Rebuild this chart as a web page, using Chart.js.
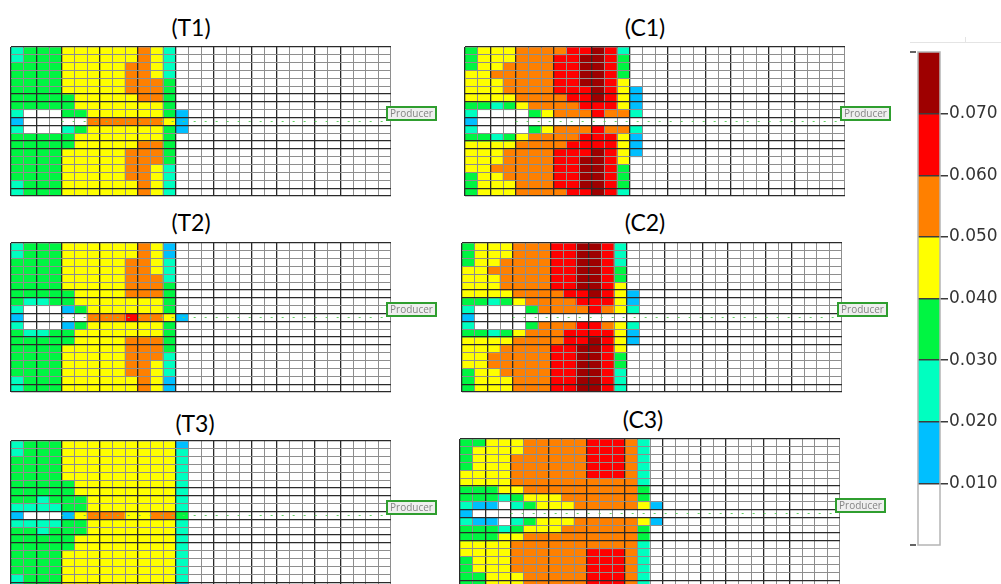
<!DOCTYPE html>
<html>
<head>
<meta charset="utf-8">
<script src="https://cdn.jsdelivr.net/npm/chart.js@4.4.1/dist/chart.umd.min.js"></script>
<style>
  html, body { margin: 0; padding: 0; background: #fff; overflow: hidden; }
  body { width: 1001px; height: 584px; position: relative; }
  canvas { position: absolute; }
  .titulo { position: absolute; width: 90px; text-align: center; font: 23px Lato, "Open Sans", sans-serif; line-height: 23px; color: #000; }
  .linha-topo { position: absolute; left: 910px; top: 42px; width: 91px; height: 1px; background: #e4e4e4; }
  .marca-topo { position: absolute; left: 965px; top: 37px; width: 1px; height: 6px; background: #e4e4e4; }
</style>
</head>
<body>
<div class="linha-topo"></div>
<div class="marca-topo"></div>

<div class="titulo" style="left:146px;top:16px">(T1)</div>
<div class="titulo" style="left:600px;top:16px">(C1)</div>
<div class="titulo" style="left:146px;top:211px">(T2)</div>
<div class="titulo" style="left:600px;top:211px">(C2)</div>
<div class="titulo" style="left:150px;top:412px">(T3)</div>
<div class="titulo" style="left:598px;top:408px">(C3)</div>

<canvas id="T1"></canvas>
<canvas id="C1"></canvas>
<canvas id="T2"></canvas>
<canvas id="C2"></canvas>
<canvas id="T3"></canvas>
<canvas id="C3"></canvas>
<canvas id="escala"></canvas>

<script>
// faixa de concentracao de cada celula: 0 = < 0.010, 1 = 0.010-0.020, ... 7 = > 0.070
const CORES_FAIXA = ["#ffffff", "#00bfff", "#00ffc0", "#00f542", "#ffff00", "#ff8000", "#ff0000", "#9e0000"];
const LIMITES_FAIXA = [0, 0.01, 0.02, 0.03, 0.04, 0.05, 0.06, 0.07, 0.08];
const ROTULOS_ESCALA = ["0.010", "0.020", "0.030", "0.040", "0.050", "0.060", "0.070"];

const T1 = [
    "233344444454200000000000000000",
    "233344444454200000000000000000",
    "333344444554200000000000000000",
    "333344444554200000000000000000",
    "333344444555300000000000000000",
    "333344444555300000000000000000",
    "333334444455300000000000000000",
    "333334444444300000000000000000",
    "200033444444310000000000000000",
    "100000555555410000000000000000",
    "200023444444310000000000000000",
    "333334444444300000000000000000",
    "333334444455300000000000000000",
    "333344444555300000000000000000",
    "333344444555300000000000000000",
    "333344444554200000000000000000",
    "333344444554200000000000000000",
    "233344444454200000000000000000",
    "233344444454200000000000000000"
];

const C1 = [
    "344455556676200000000000000000",
    "344455566776300000000000000000",
    "344555566776300000000000000000",
    "445555566776300000000000000000",
    "444555566776400000000000000000",
    "444555566676410000000000000000",
    "444455556676410000000000000000",
    "332345555666410000000000000000",
    "200003455565520000000000000000",
    "100000000000000000000000000000",
    "200003455565520000000000000000",
    "332345555666410000000000000000",
    "444455556666410000000000000000",
    "444555566676410000000000000000",
    "444555566776400000000000000000",
    "445555566776300000000000000000",
    "344555566776300000000000000000",
    "344455566776300000000000000000",
    "344455556676200000000000000000"
];

const T2 = [
    "233344444454100000000000000000",
    "233344444454100000000000000000",
    "333344444554200000000000000000",
    "333344444554200000000000000000",
    "333344444555200000000000000000",
    "333344444555300000000000000000",
    "333334444555300000000000000000",
    "322334444444300000000000000000",
    "200013444444300000000000000000",
    "100000555655410000000000000000",
    "200013444444300000000000000000",
    "322334444444300000000000000000",
    "333334444555300000000000000000",
    "333344444555300000000000000000",
    "333344444555200000000000000000",
    "333344444554200000000000000000",
    "333344444554200000000000000000",
    "233344444454100000000000000000",
    "233344444454100000000000000000"
];

const C2 = [
    "344455566776200000000000000000",
    "344455566776200000000000000000",
    "344555566776200000000000000000",
    "445555566776300000000000000000",
    "444555566776300000000000000000",
    "444555566776400000000000000000",
    "444455556676410000000000000000",
    "332345555666410000000000000000",
    "200003555565420000000000000000",
    "100000000000000000000000000000",
    "200003555665420000000000000000",
    "332345556666410000000000000000",
    "444455556676410000000000000000",
    "444555566776400000000000000000",
    "445555566776300000000000000000",
    "445555566776300000000000000000",
    "344555566776200000000000000000",
    "344455566776200000000000000000",
    "344455566776200000000000000000"
];

const T3 = [
    "233344444444410000000000000000",
    "233344444444420000000000000000",
    "333344444444420000000000000000",
    "333344444444420000000000000000",
    "333344444444420000000000000000",
    "333334444444420000000000000000",
    "333334444444420000000000000000",
    "332333444444420000000000000000",
    "222233444444420000000000000000",
    "100014555445530000000000000000",
    "222233444444420000000000000000",
    "332333444444420000000000000000",
    "333334444444420000000000000000",
    "333334444444420000000000000000",
    "333344444444420000000000000000",
    "333344444444420000000000000000",
    "333344444444420000000000000000",
    "233344444444420000000000000000",
    "233344444444410000000000000000"
];

const C3 = [
    "334445555566652000000000000000",
    "344445555566652000000000000000",
    "344455555566652000000000000000",
    "344455555566652000000000000000",
    "444455555566652000000000000000",
    "444455555555552000000000000000",
    "333445555555553000000000000000",
    "333234445555553000000000000000",
    "211023444555554100000000000000",
    "100000000000000000000000000000",
    "211023444555554100000000000000",
    "333234445555553000000000000000",
    "333445555555553000000000000000",
    "444455555555552000000000000000",
    "444455555566652000000000000000",
    "344455555566652000000000000000",
    "344455555566652000000000000000",
    "334445555566652000000000000000",
    "334445555566652000000000000000"
];

const LINHA_PRODUTOR = 9;
const INICIO_TRACO = 4;
const COLUNAS_GROSSAS = [0, 2, 4, 7, 10, 13, 16, 19, 21, 24, 26, 30];
const LINHAS_GROSSAS = [0, 6, 7, 9, 10, 12, 13, 18, 19];

const COLUNAS = [...T1[0]].map((_, i) => String(i + 1));

const produtorPlugin = {
    id: "produtor",
    afterDraw(chart) {
        const { ctx, chartArea, scales } = chart;
        const y = scales.y.getPixelForValue(LINHA_PRODUTOR + 0.5);
        const x0 = scales.x.getPixelForValue(INICIO_TRACO - 0.5);

        ctx.save();
        ctx.strokeStyle = "#5fcf5f";
        ctx.lineWidth = 1;
        ctx.setLineDash([2, 9]);
        ctx.beginPath();
        ctx.moveTo(x0, y);
        ctx.lineTo(chartArea.right, y);
        ctx.stroke();
        ctx.setLineDash([]);

        const bx = chartArea.right - 4, by = y - 14.5, bw = 49, bh = 13;
        ctx.fillStyle = "#efefef";
        ctx.fillRect(bx, by, bw, bh);
        ctx.strokeStyle = "#2f9e2f";
        ctx.lineWidth = 2;
        ctx.strokeRect(bx, by, bw, bh);
        ctx.fillStyle = "#858585";
        ctx.font = "10px 'Open Sans', sans-serif";
        ctx.textAlign = "center";
        ctx.textBaseline = "middle";
        ctx.fillText("Producer", bx + bw / 2, by + bh / 2 + 0.5);
        ctx.restore();
    }
};

function montarPainel(id, linhas, esquerda, topo) {
    const canvas = document.getElementById(id);
    canvas.width = 438;
    canvas.height = 153;
    canvas.style.left = (esquerda - 2) + "px";
    canvas.style.top = (topo - 2) + "px";

    const datasets = linhas.map((linha, r) => ({
        data: [...linha].map(() => [r, r + 1]),
        backgroundColor: [...linha].map(n => CORES_FAIXA[Number(n)]),
        borderWidth: 0,
        barPercentage: 1,
        categoryPercentage: 1,
        grouped: false
    }));

    new Chart(canvas, {
        type: "bar",
        data: { labels: COLUNAS, datasets },
        plugins: [produtorPlugin],
        options: {
            responsive: false,
            animation: false,
            events: [],
            layout: { padding: { left: 2, top: 2, right: 56, bottom: 2 } },
            plugins: { legend: { display: false }, tooltip: { enabled: false } },
            scales: {
                x: {
                    ticks: { display: false, autoSkip: false },
                    border: { display: false },
                    grid: {
                        z: 1,
                        offset: true,
                        drawTicks: false,
                        color: c => COLUNAS_GROSSAS.includes(c.index) ? "#2a2a2a" : "#8e8e8e",
                        lineWidth: c => COLUNAS_GROSSAS.includes(c.index) ? 1.3 : 1
                    }
                },
                y: {
                    min: 0,
                    max: linhas.length,
                    reverse: true,
                    ticks: { display: false, stepSize: 1, maxTicksLimit: 100 },
                    border: { display: false },
                    grid: {
                        z: 1,
                        drawTicks: false,
                        color: c => LINHAS_GROSSAS.includes(c.tick.value) ? "#2a2a2a" : "#8e8e8e",
                        lineWidth: c => LINHAS_GROSSAS.includes(c.tick.value) ? 1.3 : 1
                    }
                }
            }
        }
    });
}

montarPainel("T1", T1, 11, 47);
montarPainel("C1", C1, 465, 47);
montarPainel("T2", T2, 11, 243);
montarPainel("C2", C2, 462, 243);
montarPainel("T3", T3, 11, 441);
montarPainel("C3", C3, 460, 439);

// barra de cores
const bordaEscalaPlugin = {
    id: "bordaEscala",
    afterDraw(chart) {
        const { ctx, chartArea } = chart;
        ctx.save();
        ctx.strokeStyle = "#b4b4b4";
        ctx.lineWidth = 1.5;
        ctx.strokeRect(chartArea.left, chartArea.top, chartArea.right - chartArea.left, chartArea.bottom - chartArea.top);
        ctx.strokeStyle = "#333";
        ctx.beginPath();
        ctx.moveTo(chartArea.left - 8, chartArea.top);
        ctx.lineTo(chartArea.left - 2, chartArea.top);
        ctx.moveTo(chartArea.left - 8, chartArea.bottom);
        ctx.lineTo(chartArea.left - 2, chartArea.bottom);
        ctx.stroke();
        ctx.restore();
    }
};

const escala = document.getElementById("escala");
escala.width = 121;
escala.height = 530;
escala.style.left = "880px";
escala.style.top = "30px";

const rotuloDe = v => {
    const txt = Number(v).toFixed(3);
    return ROTULOS_ESCALA.includes(txt) ? txt : "";
};

new Chart(escala, {
    type: "bar",
    data: {
        labels: [""],
        datasets: CORES_FAIXA.map((cor, k) => ({
            data: [[LIMITES_FAIXA[k], LIMITES_FAIXA[k + 1]]],
            backgroundColor: cor,
            borderWidth: 0,
            barPercentage: 1,
            categoryPercentage: 1,
            grouped: false
        }))
    },
    plugins: [bordaEscalaPlugin],
    options: {
        responsive: false,
        animation: false,
        events: [],
        layout: { padding: { left: 38, top: 22, right: 0, bottom: 15 } },
        plugins: { legend: { display: false }, tooltip: { enabled: false } },
        scales: {
            x: { display: false },
            y: {
                position: "right",
                min: LIMITES_FAIXA[0],
                max: LIMITES_FAIXA[LIMITES_FAIXA.length - 1],
                afterFit: s => { s.width = 61; },
                border: { display: false },
                grid: {
                    z: 1,
                    tickLength: 8,
                    lineWidth: 1.5,
                    color: c => rotuloDe(c.tick.value) ? "#3c3c3c" : "rgba(0,0,0,0)"
                },
                ticks: {
                    stepSize: 0.01,
                    padding: 1,
                    color: "#333",
                    font: { family: "'DejaVu Sans', sans-serif", size: 17 },
                    callback: v => rotuloDe(v)
                }
            }
        }
    }
});
</script>
</body>
</html>
